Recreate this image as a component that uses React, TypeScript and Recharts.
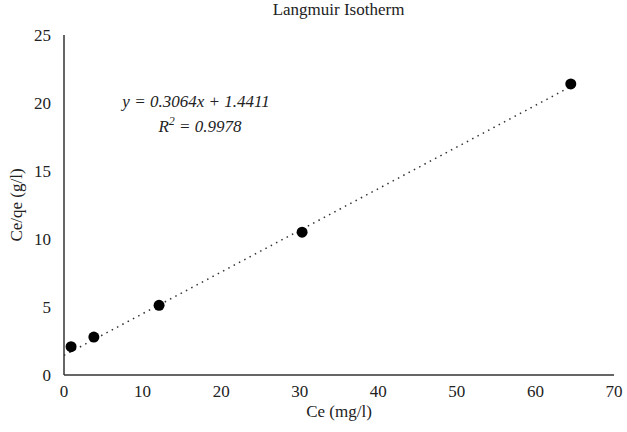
import { ComposedChart, Line, Scatter, XAxis, YAxis, Label } from "recharts";

const ce = [0.9, 3.8, 12.1, 30.3, 64.5];
const ceQe = [2.08, 2.79, 5.12, 10.5, 21.4];
const xTicks = [0, 10, 20, 30, 40, 50, 60, 70];
const yTicks = [0, 5, 10, 15, 20, 25];
const slope = 0.3064;
const intercept = 1.4411;
const fitRange = [0, 64.5];

const points = ce.map((x, i) => ({ x, y: ceQe[i] }));
const fitLine = fitRange.map((x) => ({ x, y: slope * x + intercept }));

const font = "Liberation Serif";
const tickStyle = { fill: "#222", fontSize: 17 };

export default function App() {
  return (
    <div className="chart-box" style={{ position: "absolute", left: 0, top: 0, width: 627, height: 432, background: "#fff" }}>
      <style>{`.chart-box, .chart-box text, .chart-box div { font-family: "${font}", serif; }`}</style>
      <div style={{ position: "absolute", left: 0, width: 627, top: 0, textAlign: "center", fontSize: 17, color: "#222", paddingLeft: 50, boxSizing: "border-box" }}>
        Langmuir Isotherm
      </div>
      <ComposedChart width={627} height={432} margin={{ top: 35, right: 13, bottom: 27, left: 24 }}>
        <XAxis
          type="number"
          dataKey="x"
          domain={[0, 70]}
          ticks={xTicks}
          tickLine={false}
          stroke="#333"
          strokeWidth={1.5}
          tick={tickStyle}
          tickMargin={4}
          height={30}
          allowDataOverflow
        >
          <Label value="Ce (mg/l)" position="insideBottom" offset={-12} style={{ fill: "#222", fontSize: 17 }} />
        </XAxis>
        <YAxis
          type="number"
          dataKey="y"
          domain={[0, 25]}
          ticks={yTicks}
          tickLine={false}
          stroke="#333"
          strokeWidth={1.5}
          tick={tickStyle}
          tickMargin={7}
          width={40}
          allowDataOverflow
        >
          <Label value="Ce/qe (g/l)" angle={-90} position="insideLeft" offset={-8} style={{ fill: "#222", fontSize: 17, textAnchor: "middle" }} />
        </YAxis>
        <Line
          data={fitLine}
          dataKey="y"
          type="linear"
          stroke="#333"
          strokeWidth={1.5}
          strokeDasharray="1.5 4.5"
          dot={false}
          activeDot={false}
          isAnimationActive={false}
        />
        <Scatter data={points} dataKey="y" fill="#000" shape={(p: any) => <circle cx={p.cx} cy={p.cy} r={5.5} fill="#000" />} isAnimationActive={false} />
      </ComposedChart>
      <div style={{ position: "absolute", left: 0, top: 89, width: 392, textAlign: "center", fontStyle: "italic", fontSize: 17, color: "#222", lineHeight: "25px" }}>
        y = 0.3064x + 1.4411
        <br />
        <span style={{ paddingLeft: 8 }}>R<sup style={{ fontSize: 12, lineHeight: 0 }}>2</sup> = 0.9978</span>
      </div>
    </div>
  );
}
